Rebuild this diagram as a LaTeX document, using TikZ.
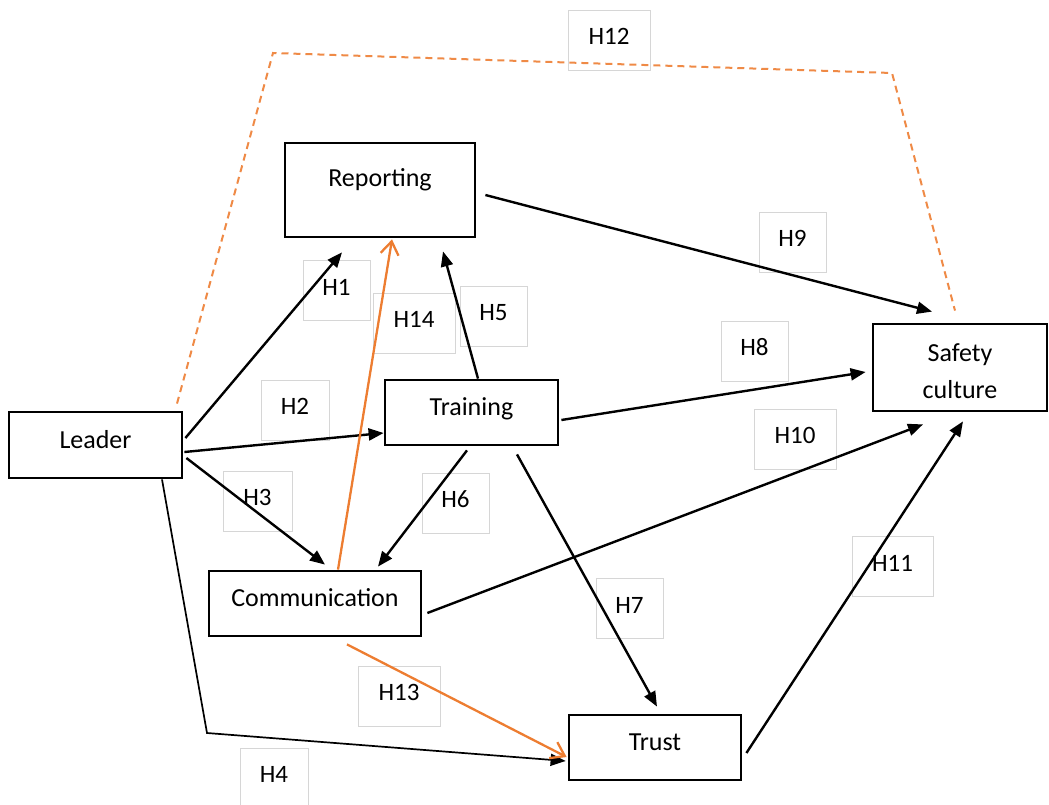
\documentclass[tikz,border=0pt]{standalone}
\usepackage{fontspec}
\setmainfont{Carlito}
\usetikzlibrary{arrows.meta}
\definecolor{accent}{HTML}{ED7D31}
\definecolor{hairline}{HTML}{D6D6D6}
\begin{document}
\begin{tikzpicture}[x=1pt,y=-1pt,
  box/.style={draw=black, line width=2.8pt, inner sep=0pt, fill=white,
    font=\fontsize{26}{37}\selectfont},
  oneline/.style={text height=18pt, text depth=12pt},
  hyp/.style={draw=hairline, line width=0.9pt, inner sep=0pt, minimum height=60pt,
    font=\fontsize{25}{30}\selectfont, text height=17pt, text depth=8pt},
  conn/.style={line width=2.4pt, -{Triangle[length=15pt,width=12pt]}},
  thinconn/.style={line width=1.7pt, -{Triangle[length=15pt,width=12pt]}},
  oconn/.style={draw=accent, line width=2.3pt,
    -{Straight Barb[length=13pt,width=18pt,line width=2.3pt]}},
  moderator/.style={draw=accent!90, line width=2pt, dash pattern=on 7pt off 5pt}]
\useasboundingbox (0,0) rectangle (1049,805);

% hypothesis labels
\node[hyp, minimum width=82pt] (h12) at (609,40) {H12};
\node[hyp, minimum width=67pt] (h1) at (336.5,290.5) {H1};
\node[hyp, minimum width=82pt] (h14) at (414,323) {H14};
\node[hyp, minimum width=67pt] (h5) at (493.5,316) {H5};
\node[hyp, minimum width=67pt] (h9) at (792.5,242) {H9};
\node[hyp, minimum width=68pt] (h2) at (295,410) {H2};
\node[hyp, minimum width=67pt] (h8) at (754.5,351) {H8};
\node[hyp, minimum width=82pt] (h10) at (795,439) {H10};
\node[hyp, minimum width=69pt] (h3) at (257.5,501) {H3};
\node[hyp, minimum width=67pt] (h6) at (455.5,503) {H6};
\node[hyp, minimum width=81pt] (h11) at (892.5,566.5) {H11};
\node[hyp, minimum width=67pt] (h7) at (629.5,608.5) {H7};
\node[hyp, minimum width=82pt] (h13) at (399,696) {H13};
\node[hyp, minimum width=68pt] (h4) at (274,778) {H4};

% constructs
\node[box, oneline, minimum width=173pt, minimum height=66pt] (lead) at (95.5,445) {Leader};
\node[box, text height=18pt, text depth=26pt, minimum width=190pt, minimum height=94pt] (rep) at (380,190) {Reporting};
\node[box, oneline, minimum width=173pt, minimum height=65pt] (trn) at (471.5,412.5) {Training};
\node[box, oneline, minimum width=212pt, minimum height=65pt] (com) at (315,603.5) {Communication};
\node[box, oneline, minimum width=172pt, minimum height=65pt] (tru) at (655,747.5) {Trust};
\node[box, align=center, minimum width=174pt, minimum height=87pt] (sc) at (960,367.5) {\rule{0pt}{26pt}Safety\\culture};

% bend points
\coordinate (h4bend) at (207,733);
\coordinate (h12a) at (273,53);
\coordinate (h12b) at (892,73);

% moderating path (dashed)
\draw[moderator] ([shift={(81.5,-7)}]lead.north) -- (h12a) -- (h12b) -- ([shift={(-5,-12)}]sc.north);

% direct paths
\draw[conn] ([shift={(2,-7)}]lead.east) -- ([shift={(-38,14)}]rep.south);
\draw[conn] ([shift={(1,7)}]lead.east) -- ([shift={(0,20.5)}]trn.west);
\draw[conn] ([shift={(3,13)}]lead.east) -- ([shift={(10,-5)}]com.north);
\draw[thinconn] ([shift={(66.5,0)}]lead.south) -- (h4bend) -- ([shift={(-2,13.5)}]tru.west);
\draw[conn] ([shift={(6.5,0)}]trn.north) -- ([shift={(63,13)}]rep.south);
\draw[conn] ([shift={(-4.5,4)}]trn.south) -- ([shift={(63,-3)}]com.north);
\draw[conn] ([shift={(45.5,8)}]trn.south) -- ([shift={(2,-7)}]tru.north);
\draw[conn] ([shift={(2,7.5)}]trn.east) -- ([shift={(-6,4.5)}]sc.west);
\draw[conn] ([shift={(9,5)}]rep.east) -- ([shift={(-28,-11)}]sc.north);
\draw[conn] ([shift={(5,9.5)}]com.east) -- ([shift={(-37,12)}]sc.south);
\draw[conn] ([shift={(4,5.5)}]tru.east) -- ([shift={(3,9)}]sc.south);

% mediated paths
\draw[oconn] ([shift={(32,7)}]com.south) -- ([shift={(-1,9.5)}]tru.west);
\draw[oconn] ([shift={(23,0)}]com.north) -- ([shift={(12,1)}]rep.south);
\end{tikzpicture}
\end{document}
